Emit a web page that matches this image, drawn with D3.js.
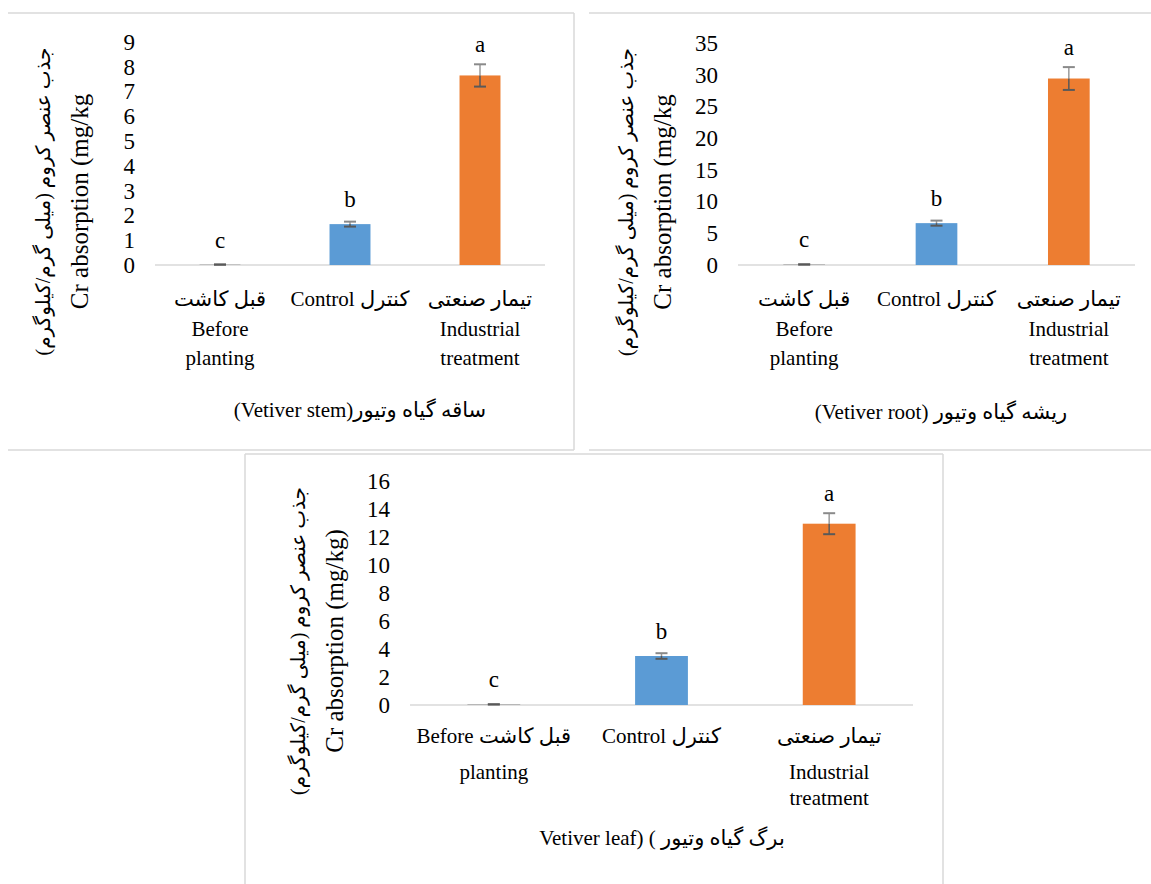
<!DOCTYPE html>
<html>
<head>
<meta charset="utf-8">
<script src="https://cdnjs.cloudflare.com/ajax/libs/d3/7.8.5/d3.min.js"></script>
<style>
  body { margin: 0; background: #fff; }
  text { font-family: "Liberation Serif", "DejaVu Sans", serif; fill: #000; }
</style>
</head>
<body>
<svg id="chart" width="1151" height="884"></svg>
<script>
// ---- data ----
const stemValues = [0.02, 1.65, 7.65];
const stemErrors = [0.01, 0.1, 0.45];
const stemTicks = [0, 1, 2, 3, 4, 5, 6, 7, 8, 9];

const rootValues = [0.1, 6.6, 29.4];
const rootErrors = [0.05, 0.4, 1.8];
const rootTicks = [0, 5, 10, 15, 20, 25, 30, 35];

const leafValues = [0.05, 3.5, 12.95];
const leafErrors = [0.02, 0.2, 0.75];
const leafTicks = [0, 2, 4, 6, 8, 10, 12, 14, 16];

const letters = ["c", "b", "a"];

const stemCategories = [["قبل کاشت", "Before", "planting"], ["کنترل Control"], ["تیمار صنعتی", "Industrial", "treatment"]];
const leafCategories = [["قبل کاشت  Before", "planting"], ["کنترل Control"], ["تیمار صنعتی", "Industrial", "treatment"]];

const yTitleFa = "جذب عنصر کروم (میلی گرم/کیلوگرم)";
const stemTitle = "ساقه گیاه وتیور(Vetiver stem)";
const rootTitle = "ریشه گیاه وتیور (Vetiver root)";
const leafTitle = "Vetiver leaf) ( برگ گیاه وتیور";

const barColors = ["#a5a5a5", "#5b9bd5", "#ed7d31"];

const svg = d3.select("#chart");

// panel frames
const frames = [
  [8, 13, 574, 13], [574, 13, 574, 450], [8, 450, 574, 450],
  [589, 13, 1151, 13], [589, 450, 1151, 450],
  [245, 454, 943, 454], [245, 454, 245, 884], [943, 454, 943, 884]
];
svg.selectAll(".frame").data(frames).enter().append("line")
  .attr("class", "frame")
  .attr("x1", d => d[0]).attr("y1", d => d[1])
  .attr("x2", d => d[2]).attr("y2", d => d[3])
  .attr("stroke", "#d9d9d9").attr("stroke-width", 1.5);

const isRtl = s => /^[\u0600-\u06FF]/.test(s);

function drawPanel(p) {
  const g = svg.append("g");
  const x = d3.scaleBand().domain(d3.range(p.values.length))
    .range([p.x0, p.x1]).paddingInner(0.685).paddingOuter(0.3425);
  const y = d3.scaleLinear().domain([0, p.max]).range([p.base, p.top]);
  const bw = x.bandwidth();

  // y ticks
  const ax = g.append("g").attr("transform", "translate(" + p.x0 + ",0)")
    .call(d3.axisLeft(y).tickValues(p.ticks).tickSize(0).tickPadding(20).tickFormat(d3.format("d")));
  ax.select(".domain").remove();
  ax.attr("font-size", 23).attr("font-family", null);

  // category axis line
  g.append("line").attr("x1", p.x0).attr("x2", p.x1)
    .attr("y1", p.base).attr("y2", p.base)
    .attr("stroke", "#d9d9d9").attr("stroke-width", 1.5);

  // bars
  g.selectAll(".bar").data(p.values).enter().append("rect")
    .attr("class", "bar")
    .attr("x", (d, i) => x(i))
    .attr("y", d => y(d))
    .attr("width", bw)
    .attr("height", d => p.base - y(d))
    .attr("fill", (d, i) => barColors[i]);

  // error bars + letters
  p.values.forEach((v, i) => {
    const cx = x(i) + bw / 2;
    const e = p.errors[i];
    const yv = y(v), yt = y(v + e), yb = y(v - e);
    g.append("line").attr("x1", cx).attr("x2", cx).attr("y1", yt).attr("y2", yv)
      .attr("stroke", "#9a9a9a").attr("stroke-width", 1.5);
    g.append("line").attr("x1", cx - 6).attr("x2", cx + 6).attr("y1", yt).attr("y2", yt)
      .attr("stroke", "#8a8a8a").attr("stroke-width", 2);
    g.append("line").attr("x1", cx).attr("x2", cx).attr("y1", yv).attr("y2", yb)
      .attr("stroke", "#595959").attr("stroke-width", 1.5);
    g.append("line").attr("x1", cx - 6).attr("x2", cx + 6).attr("y1", yb).attr("y2", yb)
      .attr("stroke", "#595959").attr("stroke-width", 2);

    g.append("text")
      .attr("x", cx)
      .attr("y", Math.min(yv - 17, yt - 12))
      .attr("text-anchor", "middle")
      .attr("font-size", 23)
      .text(letters[i]);
  });

  // category labels
  p.categories.forEach((lines, i) => {
    const cx = x(i) + bw / 2;
    lines.forEach((s, k) => {
      g.append("text")
        .attr("x", cx).attr("y", p.base + p.lineOffsets[k])
        .attr("text-anchor", "middle")
        .attr("dominant-baseline", "central")
        .attr("direction", isRtl(s) ? "rtl" : "ltr")
        .attr("font-size", 21)
        .text(s);
    });
  });

  // y titles
  const cy = (p.top + p.base) / 2 + 48;
  g.append("text")
    .attr("transform", "translate(" + (p.x0 - 112) + "," + cy + ") rotate(-90)")
    .attr("text-anchor", "middle").attr("dominant-baseline", "central")
    .attr("direction", "rtl").attr("font-size", 20)
    .text(yTitleFa);
  g.append("text")
    .attr("transform", "translate(" + (p.x0 - 76) + "," + cy + ") rotate(-90)")
    .attr("text-anchor", "middle").attr("dominant-baseline", "central")
    .attr("font-size", 25)
    .text(p.yTitle);

  // chart title
  g.append("text")
    .attr("x", p.titleX).attr("y", p.titleY)
    .attr("text-anchor", "middle").attr("dominant-baseline", "central")
    .attr("direction", isRtl(p.title) ? "rtl" : "ltr")
    .attr("font-size", 21)
    .text(p.title);
}

drawPanel({
  values: stemValues, errors: stemErrors, ticks: stemTicks, max: 9,
  categories: stemCategories, title: stemTitle, yTitle: "Cr absorption (mg/kg",
  x0: 155, x1: 545, top: 42, base: 265, lineOffsets: [34, 64, 93],
  titleX: 360, titleY: 410
});
drawPanel({
  values: rootValues, errors: rootErrors, ticks: rootTicks, max: 35,
  categories: stemCategories, title: rootTitle, yTitle: "Cr absorption (mg/kg",
  x0: 738, x1: 1135, top: 43, base: 265, lineOffsets: [34, 64, 93],
  titleX: 941, titleY: 412
});
drawPanel({
  values: leafValues, errors: leafErrors, ticks: leafTicks, max: 16,
  categories: leafCategories, title: leafTitle, yTitle: "Cr absorption (mg/kg)",
  x0: 410, x1: 913, top: 481, base: 705, lineOffsets: [31, 67, 93],
  titleX: 662, titleY: 838
});
</script>
</body>
</html>
